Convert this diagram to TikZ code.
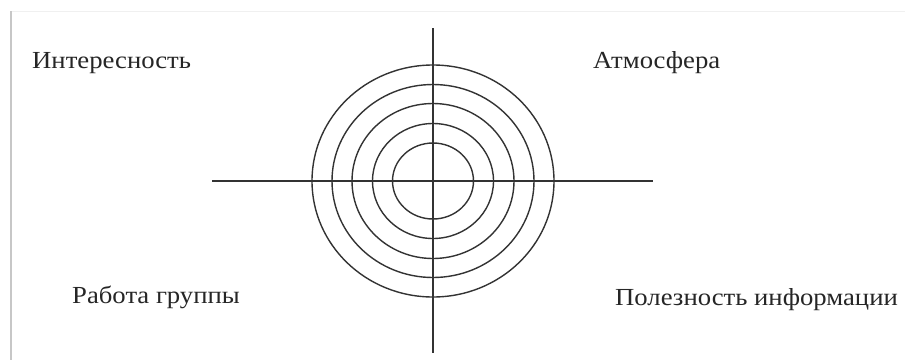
\documentclass[tikz,border=0pt]{standalone}
\usepackage{fontspec}
\setmainfont{Liberation Serif}
\newcommand{\wtxt}[1]{\scalebox{1.09}[1]{#1}}
\begin{document}
\begin{tikzpicture}[x=1pt,y=-1pt,
  axis/.style={draw=black!80,line width=1.6pt},
  ring/.style={draw=black!80,line width=1.4pt},
  lbl/.style={anchor=base west,inner sep=0pt,font=\fontsize{24.5}{28}\selectfont,text=black!85}]
\useasboundingbox (0,0) rectangle (905,360);
\fill[white] (0,0) rectangle (905,360);
\draw[black!6,line width=1pt] (11,11.5) -- (905,11.5);
\draw[black!22,line width=1.6pt] (11,11) -- (11,360);
\coordinate (c) at (433,181);
\foreach \rx/\ry in {121/116,101/96.5,81/77.5,60.5/57.5,40.5/38}
  \draw[ring] (c) ellipse [x radius=\rx, y radius=\ry];
\coordinate (t) at (433,28);
\coordinate (b) at (433,353);
\coordinate (l) at (212,181);
\coordinate (r) at (653,181);
\draw[axis] (t) -- (b);
\draw[axis] (l) -- (r);
\node[lbl] (n1) at (32,68) {\wtxt{Интересность}};
\node[lbl] (n2) at (593,68) {\wtxt{Атмосфера}};
\node[lbl] (n3) at (72,303) {\wtxt{Работа группы}};
\node[lbl] (n4) at (615,305) {\wtxt{Полезность информации}};
\end{tikzpicture}
\end{document}
